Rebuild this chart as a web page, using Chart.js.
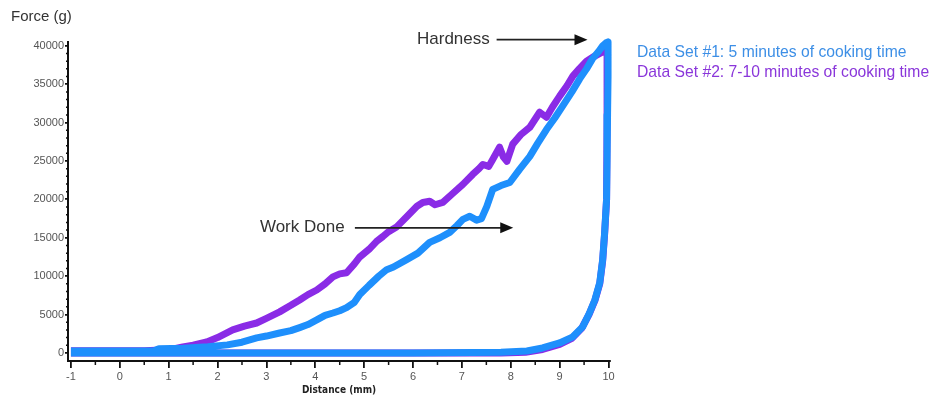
<!DOCTYPE html>
<html>
<head>
<meta charset="utf-8">
<title>Force vs Distance</title>
<script src="https://cdn.jsdelivr.net/npm/chart.js@4.4.1/dist/chart.umd.min.js"></script>
<style>
  body { margin: 0; background: #fff; }
  #wrap { width: 935px; height: 398px; }
</style>
</head>
<body>
<div id="wrap"><canvas id="forceChart" width="935" height="398"></canvas></div>
<script>
// Data Set #1 (5 min) - loading then unloading path
const distanceSet1 = [-1, 0, 0.7, 0.8, 1.3, 1.8, 2.2, 2.5, 2.8, 3.0, 3.27, 3.5, 3.68, 3.85, 4.03, 4.2, 4.36, 4.5, 4.64, 4.8, 4.91,
  5.1, 5.3, 5.46, 5.6, 5.87, 6.1, 6.34, 6.55, 6.75, 6.9, 7.02, 7.16, 7.3, 7.4, 7.51, 7.63, 7.8, 7.98, 8.18, 8.39, 8.55,
  8.73, 8.9, 9.06, 9.25, 9.41, 9.55, 9.67, 9.8, 9.88, 9.95, 9.99,
  9.99, 9.98, 9.97, 9.96, 9.92, 9.88, 9.82, 9.72, 9.61, 9.47, 9.27, 9.0, 8.65, 8.33, 7.8, 6, 4, 2, 0, -1];
const forceSet1 = [250, 250, 300, 550, 600, 800, 1050, 1400, 1960, 2200, 2600, 2900, 3300, 3700, 4300, 4900, 5200, 5500, 5900, 6600, 7600,
  8800, 10000, 10850, 11200, 12150, 13000, 14400, 15000, 15700, 16600, 17400, 17800, 17300, 17500, 19100, 21300, 21800, 22200, 23900, 25600, 27300,
  29100, 30600, 32150, 34000, 35700, 37000, 38300, 39300, 40000, 40400, 40500,
  36000, 31000, 25000, 20000, 15700, 12150, 9150, 6900, 5200, 3400, 2100, 1300, 650, 260, 80, 0, 0, 0, 0, 0];

// Data Set #2 (7-10 min)
const distanceSet2 = [-1, 0.5, 1.0, 1.29, 1.5, 1.78, 2.0, 2.31, 2.55, 2.8, 3.0, 3.27, 3.5, 3.68, 3.85, 4.03, 4.2, 4.36, 4.5, 4.64, 4.8,
  4.91, 5.1, 5.25, 5.38, 5.5, 5.67, 5.85, 6.08, 6.2, 6.34, 6.45, 6.61, 6.8, 7.02, 7.22, 7.35, 7.43, 7.55, 7.63, 7.77, 7.85,
  7.92, 8.04, 8.2, 8.39, 8.59, 8.73, 8.85, 9.0, 9.15, 9.27, 9.4, 9.55, 9.7, 9.88, 9.98,
  9.97, 9.96, 9.92, 9.88, 9.82, 9.72, 9.6, 9.45, 9.25, 9.0, 8.65, 8.3, 7.8, -1];
const forceSet2 = [300, 300, 400, 780, 1000, 1440, 2000, 3000, 3500, 3900, 4500, 5350, 6200, 6900, 7600, 8200, 9000, 9900, 10300, 10450, 11600,
  12500, 13500, 14500, 15150, 15800, 16450, 17600, 19100, 19600, 19750, 19300, 19600, 20700, 21950, 23250, 24000, 24550, 24300, 25200, 26800, 25500,
  24950, 27200, 28400, 29400, 31350, 30700, 32000, 33450, 34800, 36050, 37000, 38000, 38600, 39200, 39000,
  30000, 20000, 15500, 12000, 9000, 6800, 5000, 3200, 1900, 1100, 450, 100, 0, 0];

const xTicks = [-1, 0, 1, 2, 3, 4, 5, 6, 7, 8, 9, 10];
const yTicks = [0, 5000, 10000, 15000, 20000, 25000, 30000, 35000, 40000];
const legendLabels = ['Data Set #1: 5 minutes of cooking time', 'Data Set #2: 7-10 minutes of cooking time'];

const BLUE = '#1e8ffc';
const PURPLE = '#8a2be6';
const FONT = '"Liberation Sans", Arial, sans-serif';

// arrows: text ends at textX, line runs fromX -> toX (data units)
const arrowNotes = [
  { text: 'Hardness', textX: 7.57, fromX: 7.71, toX: 9.57, y: 40800 },
  { text: 'Work Done', textX: 4.6, fromX: 4.81, toX: 8.05, y: 16300 }
];

function toPoints(xs, ys) {
  return xs.map((x, i) => ({ x: x, y: ys[i] }));
}

const extras = {
  id: 'extras',
  afterDraw(chart) {
    const { ctx, scales: { x, y } } = chart;
    ctx.save();

    // minor ticks
    ctx.strokeStyle = '#111';
    ctx.lineWidth = 1.5;
    ctx.beginPath();
    for (let v = -0.5; v < 10; v += 1) {
      const px = x.getPixelForValue(v);
      ctx.moveTo(px, y.bottom);
      ctx.lineTo(px, y.bottom + 4);
    }
    for (let v = 1000; v < 40000; v += 1000) {
      if (v % 5000 === 0) continue;
      const py = y.getPixelForValue(v);
      ctx.moveTo(x.left, py);
      ctx.lineTo(x.left - 2, py);
    }
    ctx.stroke();

    // y axis title
    ctx.fillStyle = '#333';
    ctx.font = '15px ' + FONT;
    ctx.textAlign = 'left';
    ctx.textBaseline = 'middle';
    ctx.fillText('Force (g)', 11, 17);

    // legend text
    ctx.font = '15.7px ' + FONT;
    ctx.fillStyle = '#3d8fe6';
    ctx.fillText(legendLabels[0], 637, 53);
    ctx.fillStyle = '#8a36da';
    ctx.fillText(legendLabels[1], 637, 73);

    // arrows
    arrowNotes.forEach(n => {
      const py = y.getPixelForValue(n.y);
      const x0 = x.getPixelForValue(n.fromX);
      const x1 = x.getPixelForValue(n.toX);
      ctx.fillStyle = '#333';
      ctx.font = '17px ' + FONT;
      ctx.textAlign = 'right';
      ctx.fillText(n.text, x.getPixelForValue(n.textX), py);
      ctx.strokeStyle = '#222';
      ctx.lineWidth = 1.8;
      ctx.beginPath();
      ctx.moveTo(x0, py);
      ctx.lineTo(x1 - 10, py);
      ctx.stroke();
      ctx.fillStyle = '#111';
      ctx.beginPath();
      ctx.moveTo(x1, py);
      ctx.lineTo(x1 - 13, py - 5.5);
      ctx.lineTo(x1 - 13, py + 5.5);
      ctx.closePath();
      ctx.fill();
    });
    ctx.restore();
  }
};

new Chart(document.getElementById('forceChart'), {
  type: 'line',
  data: {
    datasets: [
      {
        label: legendLabels[0],
        data: toPoints(distanceSet1, forceSet1),
        borderColor: BLUE,
        borderWidth: 7,
        pointRadius: 0,
        tension: 0,
        borderJoinStyle: 'round',
        clip: false
      },
      {
        label: legendLabels[1],
        data: toPoints(distanceSet2, forceSet2),
        borderColor: PURPLE,
        borderWidth: 7,
        pointRadius: 0,
        tension: 0,
        borderJoinStyle: 'round',
        clip: false
      }
    ]
  },
  options: {
    responsive: false,
    animation: false,
    layout: { padding: { top: 42, right: 325, left: 0, bottom: 0 } },
    plugins: { legend: { display: false }, tooltip: { enabled: false } },
    scales: {
      x: {
        type: 'linear',
        min: -1.06,
        max: 10.03,
        afterBuildTicks: s => { s.ticks = xTicks.map(v => ({ value: v })); },
        afterFit: s => { s.height = 37; },
        grid: { drawOnChartArea: false, tickLength: 7, color: '#111', lineWidth: 1.8 },
        border: { color: '#111', width: 2 },
        ticks: { color: '#555', font: { size: 11, family: FONT }, padding: 2, maxRotation: 0, autoSkip: false, callback: v => String(v) },
        title: {
          display: true,
          text: 'Distance (mm)',
          color: '#222',
          font: { size: 10, weight: 'bold', family: '"Liberation Sans Narrow", "DejaVu Sans Condensed", Arial, sans-serif' },
          padding: { top: 0, bottom: 2 }
        }
      },
      y: {
        min: -1050,
        max: 40500,
        afterBuildTicks: s => { s.ticks = yTicks.map(v => ({ value: v })); },
        afterFit: s => { s.width = 68; },
        grid: { drawOnChartArea: false, tickLength: 3, color: '#111', lineWidth: 1.8 },
        border: { color: '#111', width: 2 },
        ticks: { color: '#555', font: { size: 11, family: FONT }, padding: 1, callback: v => String(v) }
      }
    }
  },
  plugins: [extras]
});
</script>
</body>
</html>
